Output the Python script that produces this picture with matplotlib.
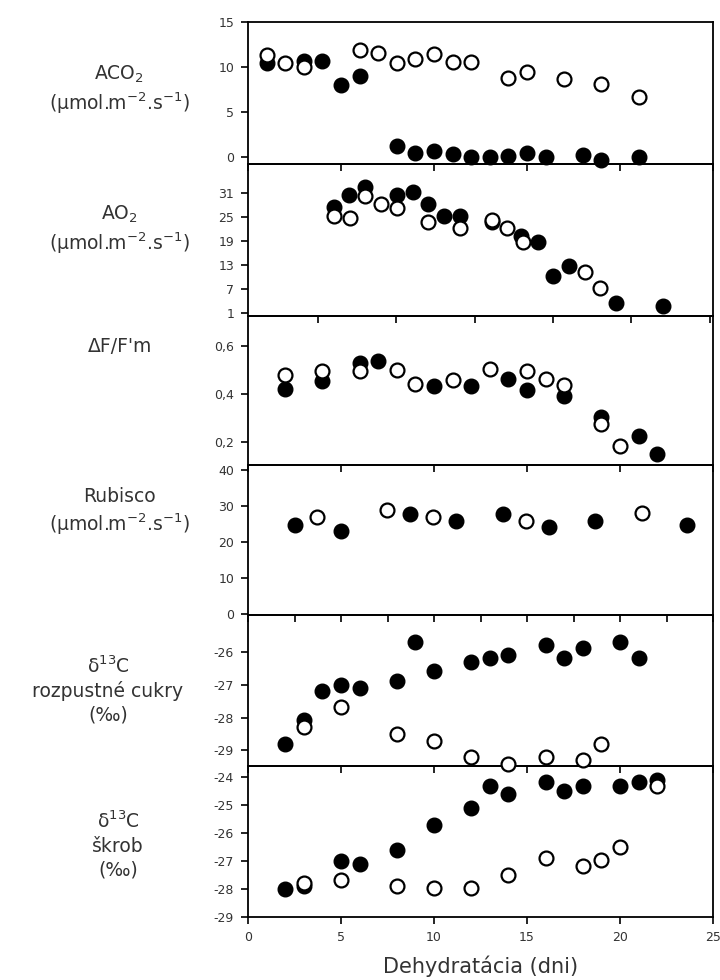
import matplotlib
matplotlib.use('Agg')
import matplotlib.pyplot as plt
import numpy as np

plt.rcParams['font.family'] = ['DejaVu Sans']
plt.rcParams['mathtext.default'] = 'regular'
plt.rcParams['axes.unicode_minus'] = False

# ACO2
aco2_open_x = [1, 2, 3, 6, 7, 8, 9, 10, 11, 12, 14, 15, 17, 19, 21]
aco2_open_y = [11.3, 10.4, 10.0, 11.9, 11.6, 10.4, 10.9, 11.4, 10.6, 10.6, 8.8, 9.4, 8.7, 8.1, 6.7]
aco2_fill_x = [1, 3, 4, 5, 6, 8, 9, 10, 11, 12, 13, 14, 15, 16, 18, 19, 21]
aco2_fill_y = [10.4, 10.7, 10.7, 8.0, 9.0, 1.2, 0.45, 0.7, 0.27, 0.0, 0.0, 0.14, 0.45, 0.0, 0.2, -0.35, -0.05]

# AO2
ao2_open_x = [4.6, 5.5, 6.3, 7.15, 8.0, 9.7, 11.4, 13.1, 13.9, 14.8, 18.1, 18.9]
ao2_open_y = [25.1, 24.7, 30.2, 28.3, 27.1, 23.7, 22.2, 24.1, 22.2, 18.7, 11.1, 7.1]
ao2_fill_x = [4.6, 5.45, 6.3, 8.0, 8.85, 9.7, 10.55, 11.4, 13.1, 14.7, 15.6, 16.4, 17.25, 19.8, 22.3]
ao2_fill_y = [27.5, 30.4, 32.4, 30.4, 31.3, 28.3, 25.2, 25.2, 23.6, 20.3, 18.7, 10.1, 12.8, 3.5, 2.7]

# dF/F'm
fm_open_x = [2, 4, 6, 8, 9, 11, 13, 15, 16, 17, 19, 20]
fm_open_y = [0.477, 0.497, 0.494, 0.501, 0.442, 0.459, 0.504, 0.497, 0.463, 0.438, 0.275, 0.18]
fm_fill_x = [2, 4, 6, 7, 10, 12, 14, 15, 17, 19, 21, 22]
fm_fill_y = [0.421, 0.452, 0.53, 0.536, 0.433, 0.433, 0.463, 0.414, 0.391, 0.303, 0.222, 0.148]

# Rubisco
rub_open_x = [3.7, 7.45, 9.95, 14.95, 21.2]
rub_open_y = [26.8, 28.8, 26.8, 25.9, 27.9]
rub_fill_x = [2.5, 5.0, 8.7, 11.2, 13.7, 16.2, 18.65, 23.6]
rub_fill_y = [24.8, 23.0, 27.8, 25.7, 27.8, 24.2, 25.7, 24.8]

# d13C rozpustne cukry
cuk_open_x = [3, 5, 8, 10, 12, 14, 16, 18, 19]
cuk_open_y = [-28.29, -27.69, -28.49, -28.7, -29.2, -29.4, -29.2, -29.3, -28.8]
cuk_fill_x = [2, 3, 4, 5, 6, 8, 9, 10, 12, 13, 14, 16, 17, 18, 20, 21]
cuk_fill_y = [-28.8, -28.08, -27.2, -26.99, -27.1, -26.89, -25.69, -26.59, -26.29, -26.18,
              -26.08, -25.77, -26.18, -25.88, -25.69, -26.18]

# d13C skrob
skr_open_x = [3, 5, 8, 10, 12, 14, 16, 18, 19, 20, 22]
skr_open_y = [-27.79, -27.67, -27.89, -27.97, -27.97, -27.49, -26.89, -27.19, -26.97, -26.49, -24.3]
skr_fill_x = [2, 3, 5, 6, 8, 10, 12, 13, 14, 16, 17, 18, 20, 21, 22]
skr_fill_y = [-28.0, -27.89, -26.99, -27.1, -26.59, -25.71, -25.11, -24.3, -24.6, -24.18,
              -24.5, -24.3, -24.3, -24.18, -24.09]

panels = [
    dict(label='ACO$_2$\n(µmol.m$^{-2}$.s$^{-1}$)', ox=aco2_open_x, oy=aco2_open_y,
         fx=aco2_fill_x, fy=aco2_fill_y, ylim=(-0.8, 15), yticks=[0, 5, 10, 15],
         xticks=np.arange(0, 26, 5), fmt='{:g}'),
    dict(label='AO$_2$\n(µmol.m$^{-2}$.s$^{-1}$)', ox=ao2_open_x, oy=ao2_open_y,
         fx=ao2_fill_x, fy=ao2_fill_y, ylim=(0.35, 38.2), yticks=[1, 7, 13, 19, 25, 31],
         xticks=[3.76, 7.98, 12.2, 16.4, 20.6, 24.82], fmt='{:g}'),
    dict(label="ΔF/F'm", ox=fm_open_x, oy=fm_open_y,
         fx=fm_fill_x, fy=fm_fill_y, ylim=(0.10, 0.727), yticks=[0.2, 0.4, 0.6],
         xticks=np.arange(0, 26, 5), fmt='{:.1f}'),
    dict(label='Rubisco\n(µmol.m$^{-2}$.s$^{-1}$)', ox=rub_open_x, oy=rub_open_y,
         fx=rub_fill_x, fy=rub_fill_y, ylim=(-0.3, 41.2), yticks=[0, 10, 20, 30, 40],
         xticks=np.arange(0, 26, 2.5), fmt='{:g}'),
    dict(label='δ$^{13}$C\nrozpustné cukry\n(‰)', ox=cuk_open_x, oy=cuk_open_y,
         fx=cuk_fill_x, fy=cuk_fill_y, ylim=(-29.46, -24.87), yticks=[-29, -28, -27, -26],
         xticks=np.arange(0, 26, 5), fmt='{:g}'),
    dict(label='δ$^{13}$C\nškrob\n(‰)', ox=skr_open_x, oy=skr_open_y,
         fx=skr_fill_x, fy=skr_fill_y, ylim=(-29, -23.58), yticks=[-29, -28, -27, -26, -25, -24],
         xticks=np.arange(0, 26, 5), fmt='{:g}'),
]

# panel edges in pixels (top, bottom) and label centres
edges = [(22, 164), (164, 315.5), (315.5, 465.5), (465.5, 615), (615, 765.5), (765.5, 917)]
label_y = [90, 230, 346, 512, 690, 845]
label_x = [119, 119, 120, 119, 108, 118]

W, H = 720, 980
fig = plt.figure(figsize=(W / 100, H / 100), dpi=100)
left = 248 / W
width = (713 - 248) / W
text_col = '#333333'

for i, (p, (top, bot)) in enumerate(zip(panels, edges)):
    ax = fig.add_axes([left, 1 - bot / H, width, (bot - top) / H], zorder=10 - i)
    ax.set_facecolor('none')
    ax.plot(p['fx'], p['fy'], 'o', color='black', markersize=10.5, clip_on=False, zorder=3)
    ax.plot(p['ox'], p['oy'], 'o', markerfacecolor='white', markeredgecolor='black',
            markeredgewidth=1.6, markersize=10, clip_on=False, zorder=4)
    ax.set_xlim(0, 25)
    ax.set_ylim(*p['ylim'])
    ax.set_yticks(p['yticks'])
    ax.set_yticklabels([p['fmt'].format(v).replace('.', ',') for v in p['yticks']])
    ax.set_xticks(p['xticks'])
    ax.tick_params(direction='out', length=5, width=1.2, labelsize=9, pad=5,
                   labelcolor=text_col)
    if i < len(panels) - 1:
        ax.tick_params(labelbottom=False)
    else:
        ax.set_xticklabels([str(v) for v in [0, 5, 10, 15, 20, 25]])
        ax.set_xlabel('Dehydratácia (dni)', fontsize=15, labelpad=8, color=text_col)
    for s in ax.spines.values():
        s.set_linewidth(1.3)
    fig.text(label_x[i] / W, 1 - label_y[i] / H, p['label'], ha='center', va='center',
             fontsize=13.5, linespacing=1.3, color=text_col)

fig.savefig('out.png', dpi=100)
